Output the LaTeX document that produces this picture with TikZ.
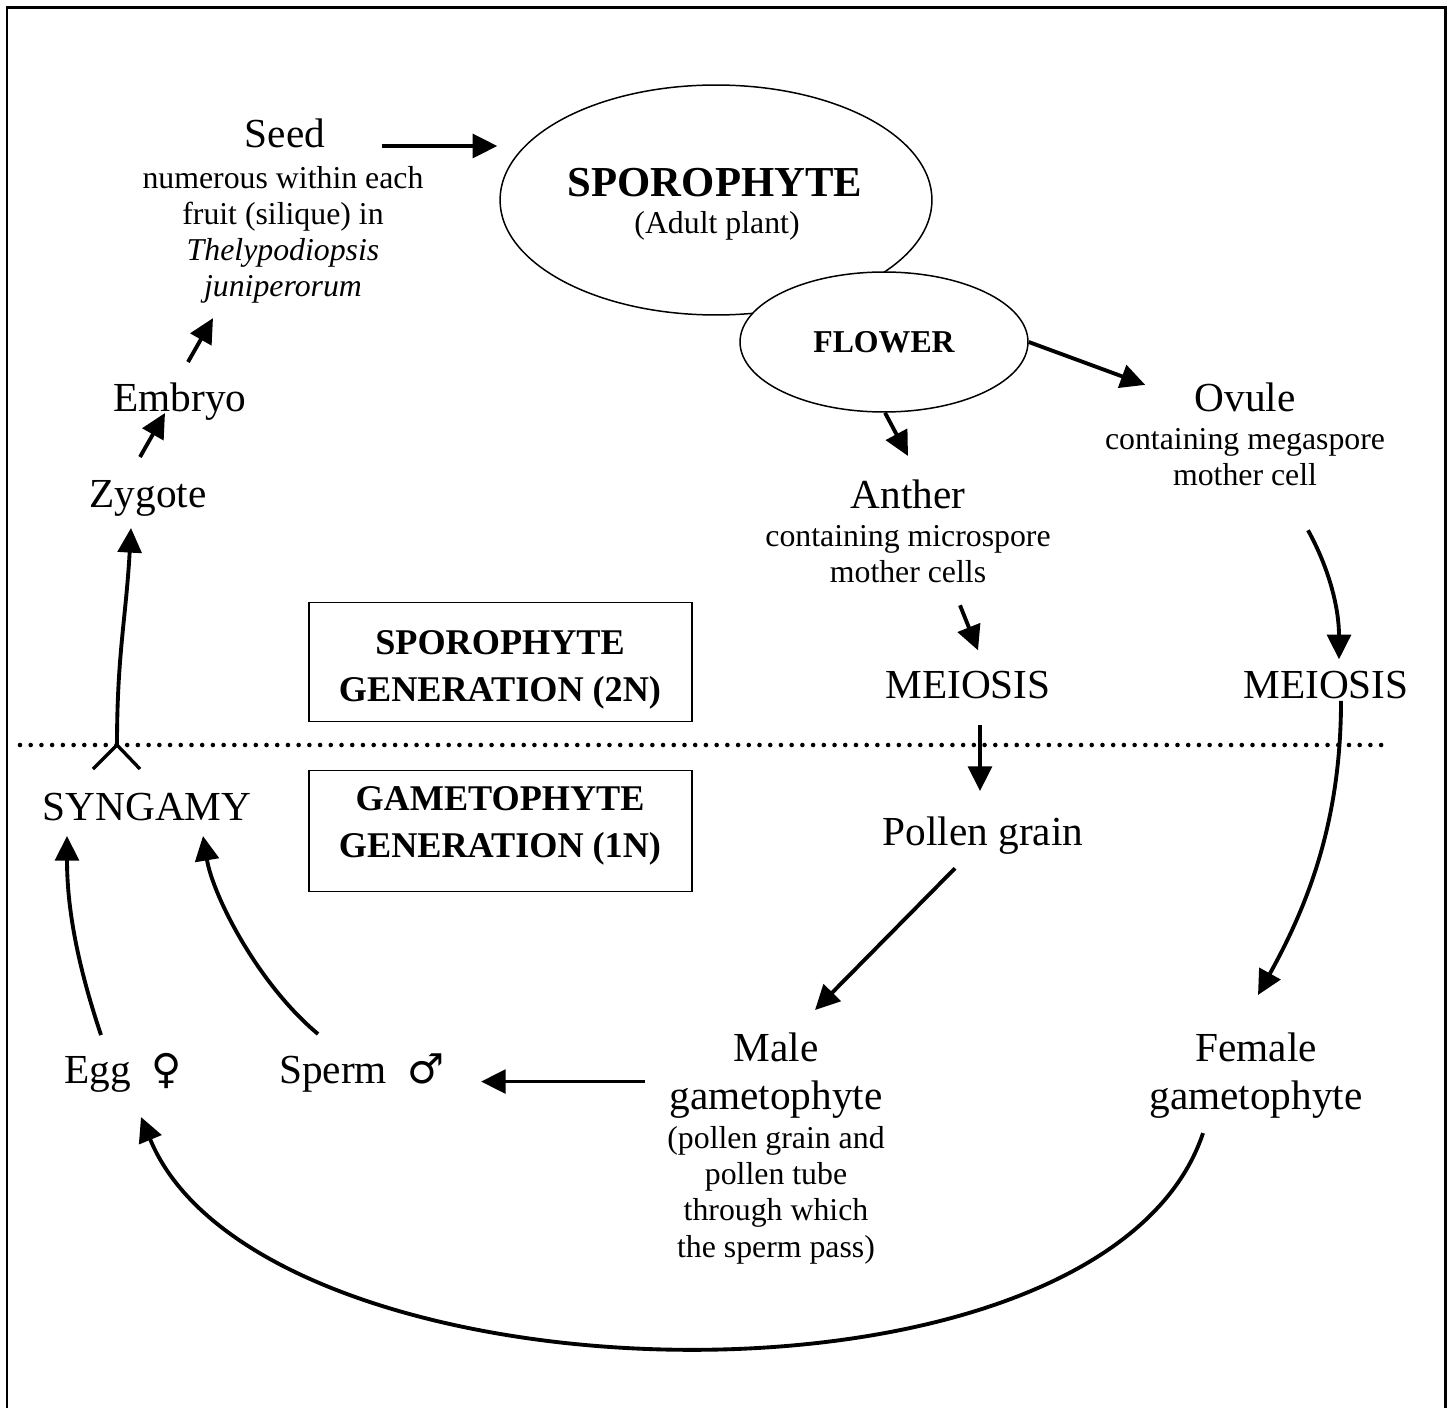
\documentclass[tikz,border=0pt]{standalone}
\usepackage{fontspec}
\setmainfont{Liberation Serif}
\newfontfamily\gsymfont{DejaVu Sans}
\usetikzlibrary{arrows.meta}
\usetikzlibrary{calc}
\usetikzlibrary{shapes.geometric}
\usetikzlibrary{positioning}

\begin{document}
\begin{tikzpicture}[x=0.02cm,y=-0.02cm,big/.style={inner sep=0pt, font=\fontsize{23.5}{27.8}\selectfont, align=center},
    small/.style={inner sep=0pt, font=\fontsize{18.1}{20.6}\selectfont, align=center},
    arr/.style={-{Triangle[length=14pt,width=13.5pt]}, line width=2.2pt}]
    \tikzset{genbox/.style={draw, line width=1.1pt, minimum width=7.66cm, minimum height=2.38cm, inner sep=0pt}}
    \tikzset{gentxt/.style={inner sep=0pt, font=\bfseries\fontsize{20.6}{26.6}\selectfont, align=center}}
    \tikzset{dotline/.style={line width=2.6pt, line cap=round, dash pattern=on 0pt off 6.1pt}}
    \useasboundingbox (0,0) rectangle (1452,1408);
    % frame, open at the bottom
    \draw[line width=1.7pt] (7,1440) -- (7,8) -- (1445,8) -- (1445,1440);

    \node[ellipse, draw, line width=0.85pt, minimum width=8.64cm, minimum height=4.6cm, inner sep=0pt] (spor) at (716,200) {};
    \node[big, font=\bfseries\fontsize{24.3}{27.8}\selectfont, anchor=base] (sporlbl) at (715,197) {SPOROPHYTE};
    \node[small, anchor=base] (adult) at (717,234) {(Adult plant)};
    \node[ellipse, draw, fill=white, line width=0.85pt, minimum width=5.76cm, minimum height=2.8cm, inner sep=0pt, font=\bfseries\fontsize{18.1}{20.6}\selectfont] (flower) at (884,342) {FLOWER};

    \node[big, anchor=base] (seed) at (285,148) {Seed};
    \node[small, anchor=north] (seedinfo) at (283,166) {numerous within each\\fruit (silique) in\\\textit{Thelypodiopsis}\\\textit{juniperorum}};
    \node[big, anchor=base] (ovule) at (1245,412) {Ovule};
    \node[small, anchor=north] (ovuleinfo) at (1245,428) {containing megaspore\\mother cell};
    \node[big, anchor=base] (anther) at (908,508) {Anther};
    \node[small, anchor=north] (antherinfo) at (908,525) {containing microspore\\mother cells};
    \node[big, anchor=base] (meiosisL) at (968,698) {MEIOSIS};
    \node[big, anchor=base] (meiosisR) at (1326,698) {MEIOSIS};
    \node[big, anchor=base] (pollen) at (983,845) {Pollen grain};

    \node[genbox] (sporgen) at (500.5,662) {};
    \node[gentxt, anchor=north] (sporgentxt) at (500,630) {SPOROPHYTE\\GENERATION (2N)};
    \node[genbox, minimum height=2.42cm] (gamgen) at (500.5,831) {};
    \node[gentxt, anchor=north] (gamgentxt) at (500,786) {GAMETOPHYTE\\GENERATION (1N)};

    \node[big, anchor=base] (syngamy) at (147,820) {SYNGAMY};
    \node[big, anchor=base] (zygote) at (148,507) {Zygote};
    \node[big, anchor=base] (embryo) at (180,412) {Embryo};
    \node[big, anchor=base] (egg) at (123,1083) {Egg~~{\gsymfont ♀}};
    \node[big, anchor=base] (sperm) at (362,1083) {Sperm~~{\gsymfont ♂}};
    \node[big, anchor=north] (male) at (776,1032) {Male\\gametophyte};
    \node[small, anchor=north] (maleinfo) at (776,1126) {(pollen grain and\\pollen tube\\through which\\the sperm pass)};
    \node[big, anchor=north] (female) at (1256,1032) {Female\\gametophyte};

    % 2N / 1N divide
    \draw[dotline] (20,745) -- (1388,745);
    \coordinate (fork) at (117,745);
    \draw[line width=1.9pt] ($(fork)+(-24,24)$) -- (fork) -- ($(fork)+(23,24)$);

    \draw[arr] ($(seed.base east)+(57,-2)$) -- ($(spor.west)+(-2,-54)$);
    \draw[arr] (flower.east) -- ($(ovule.west)+(-49,-13)$);
    \draw[arr] ($(flower.south)+(1,0)$) -- ($(anther.north)+(0,-23)$);
    \draw[arr] ($(antherinfo.south)+(52,22)$) -- ($(meiosisL.north)+(10,-20)$);
    \draw[arr] ($(meiosisL.south)+(12,26)$) -- ($(pollen.north)+(-3,-25)$);
    \draw[arr] ($(pollen.south)+(-28,14)$) -- ($(male.north)+(39,-22)$);
    \draw[arr] ($(ovuleinfo.south)+(63,44)$) .. controls +(22,40) and +(0,-50) .. ($(meiosisR.north)+(13,-11)$);
    \draw[arr] ($(meiosisR.south)+(15,2)$) .. controls +(0,120) and +(50,-90) .. ($(female.north)+(2,-37)$);
    \draw[arr] ($(male.west)+(-24,6)$) -- ($(male.west -| sperm.east)+(36,6)$);
    \draw[arr] ($(female.south)+(-53,14)$) .. controls +(-100,300) and +(120,292) .. ($(egg.base)+(18,34)$);
    \draw[arr] ($(egg.base)+(-22,-48)$) .. controls +(-20,-60) and +(0,80) .. ($(syngamy.base)+(-80,16)$);
    \draw[arr] ($(sperm.base)+(-44,-49)$) .. controls +(-60,-50) and +(10,60) .. ($(syngamy.base)+(56,16)$);
    \draw[arr] (fork) .. controls +(0,-90) and +(-5,90) .. ($(zygote.base)+(-17,21)$);
    \draw[arr] ($(zygote.base)+(-8,-50)$) -- ($(embryo.base)+(-15,1)$);
    \draw[arr] ($(embryo.base)+(8,-50)$) -- ($(seedinfo.south)+(-70,14)$);
\end{tikzpicture}
\end{document}
